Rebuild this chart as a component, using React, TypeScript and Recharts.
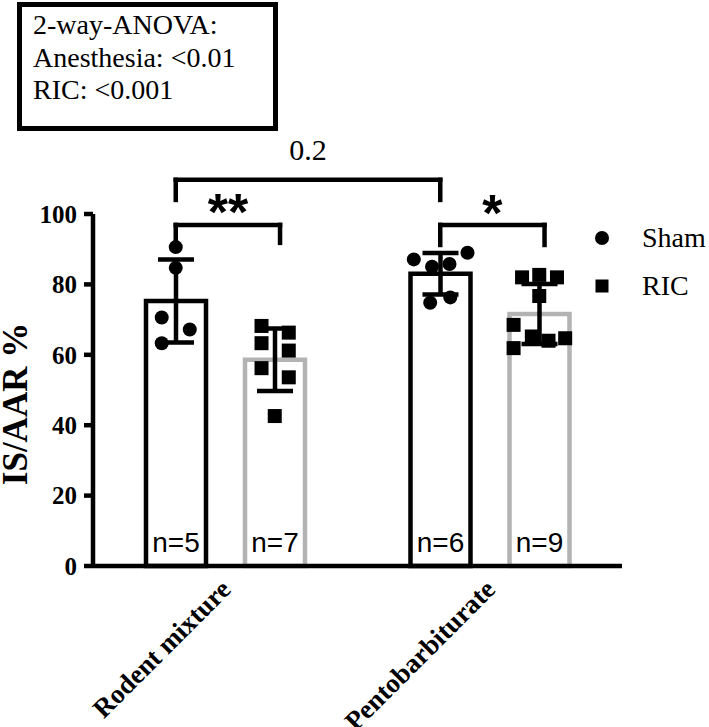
import React from "react";
import {
  ComposedChart,
  Bar,
  ErrorBar,
  LabelList,
  Scatter,
  XAxis,
  YAxis,
  ReferenceLine,
  ReferenceDot,
  Legend,
} from "recharts";

const SERIF = '"Liberation Serif", "Times New Roman", Times, serif';
const SANS = '"Liberation Sans", Arial, Helvetica, sans-serif';
const GREY = "#b3b3b3";

// categories on the x axis
const groups = ["Rodent mixture", "Pentobarbiturate"];

// group means (IS/AAR %), SD and n
const shamMean = [75.3, 83.0];
const shamSd = [11.8, 5.9];
const shamN = [5, 6];
const ricMean = [58.6, 71.6];
const ricSd = [8.9, 8.5];
const ricN = [7, 9];

// single animals: value + sideways jitter (fraction of one category band)
const shamRodentVals = [90.6, 84.7, 70.6, 67.2, 63.3];
const shamRodentJit = [0, 0, -0.053, 0.053, -0.053];
const ricRodentVals = [68.2, 66.3, 63.3, 61.2, 56.2, 53.6, 42.6];
const ricRodentJit = [-0.05, 0.053, -0.05, 0.053, -0.05, 0.053, 0];
const shamPentoVals = [87.1, 89.0, 85.0, 85.8, 74.8, 76.3];
const shamPentoJit = [-0.1, 0.103, -0.031, 0.035, -0.038, 0.038];
const ricPentoVals = [82.0, 82.7, 82.0, 76.7, 68.5, 65.2, 64.0, 64.7, 61.9];
const ricPentoJit = [-0.065, 0, 0.067, 0, -0.097, -0.028, 0.035, 0.098, -0.097];

const yTicks = [0, 20, 40, 60, 80, 100];
const legendItems = ["Sham", "RIC"];
const anovaLines = ["2-way-ANOVA:", "Anesthesia: <0.01", "RIC: <0.001"];

// comparisons, from/to = [group, series]; heights in IS/AAR %
const brackets = [
  { text: "0.2", from: [0, 0], to: [1, 0], top: 109.7, leftEnd: 104, rightEnd: 104, textAt: 115.3 },
  { text: "**", from: [0, 0], to: [0, 1], top: 96.9, leftEnd: 92.6, rightEnd: 91.8, textAt: 95.5 },
  { text: "*", from: [1, 0], to: [1, 1], top: 96.9, leftEnd: 91.2, rightEnd: 91.2, textAt: 95.3 },
];

// layout
const W = 709;
const H = 727;
const MARGIN = { top: 214, right: 87, bottom: 131, left: 0 };
const Y_AXIS_W = 93;
const X_AXIS_H = 30;
const BAR = 60;
const GAP = 39;
const PLOT_W = W - MARGIN.left - MARGIN.right - Y_AXIS_W;
const SERIES_OFFSET = (BAR + GAP) / 2 / (PLOT_W / groups.length);

// position on the hidden numeric axis (0..groups.length)
const pos = (g: number, s: number) => g + 0.5 + (s === 0 ? -1 : 1) * SERIES_OFFSET;

const rows = groups.map((g, i) => ({
  group: g,
  sham: shamMean[i],
  shamSd: shamSd[i],
  shamN: shamN[i],
  ric: ricMean[i],
  ricSd: ricSd[i],
  ricN: ricN[i],
}));

const makePoints = (vals: number[], jit: number[], g: number, s: number) =>
  vals.map((v, i) => ({ x: pos(g, s) + jit[i], y: v }));

const shamPoints = [
  ...makePoints(shamRodentVals, shamRodentJit, 0, 0),
  ...makePoints(shamPentoVals, shamPentoJit, 1, 0),
];
const ricPoints = [
  ...makePoints(ricRodentVals, ricRodentJit, 0, 1),
  ...makePoints(ricPentoVals, ricPentoJit, 1, 1),
];

const Circle = (p: any) => <circle cx={p.cx} cy={p.cy} r={7} fill="#000" />;
const Square = (p: any) => <rect x={p.cx - 7} y={p.cy - 7} width={14} height={14} fill="#000" />;

const CatTick = (p: any) => {
  const x = p.x + 7;
  const y = p.y + 25;
  return (
    <text
      x={x}
      y={y}
      transform={`rotate(-45 ${x} ${y})`}
      textAnchor="end"
      fontFamily={SERIF}
      fontWeight="bold"
      fontSize={27}
      fill="#000"
    >
      {p.payload.value}
    </text>
  );
};

const YLabel = (p: any) => {
  const vb = p.viewBox;
  const x = vb.x + 27;
  const y = vb.y + vb.height / 2 + 14;
  return (
    <text
      x={x}
      y={y}
      transform={`rotate(-90 ${x} ${y})`}
      textAnchor="middle"
      fontFamily={SERIF}
      fontWeight="bold"
      fontSize={35}
      fill="#000"
    >
      IS/AAR %
    </text>
  );
};

const LegendBox = () => (
  <div style={{ fontFamily: SERIF, fontSize: 28, color: "#000" }}>
    {legendItems.map((name, i) => (
      <div key={name} style={{ display: "flex", alignItems: "center", height: 48 }}>
        <svg width={20} height={20}>
          {i === 0 ? <circle cx={10} cy={10} r={7} fill="#000" /> : <rect x={3.5} y={3.5} width={13} height={13} fill="#000" />}
        </svg>
        <span style={{ marginLeft: 30, whiteSpace: "nowrap" }}>{name}</span>
      </div>
    ))}
  </div>
);

export default function App() {
  const line = { xAxisId: "num", stroke: "#000", strokeWidth: 4.5, strokeLinecap: "square", ifOverflow: "visible" } as any;
  return (
    <div style={{ position: "absolute", left: 0, top: 0, width: W, height: H, background: "#fff" }}>
      <div
        style={{
          position: "absolute",
          left: 17,
          top: 2,
          width: 261,
          height: 129,
          border: "5px solid #000",
          boxSizing: "border-box",
          padding: "2px 0 0 11px",
          fontFamily: SERIF,
          fontSize: 28,
          lineHeight: "32.5px",
          color: "#000",
          whiteSpace: "nowrap",
        }}
      >
        {anovaLines.map((l) => (
          <div key={l}>{l}</div>
        ))}
      </div>
      <ComposedChart width={W} height={H} data={rows} margin={MARGIN} barGap={GAP}>
        <XAxis
          xAxisId="cat"
          dataKey="group"
          height={X_AXIS_H}
          tickLine={false}
          tickSize={0}
          tickMargin={0}
          axisLine={{ stroke: "#000", strokeWidth: 4.5 }}
          tick={<CatTick />}
          interval={0}
        />
        <XAxis xAxisId="num" type="number" dataKey="x" domain={[0, groups.length]} allowDataOverflow hide />
        <YAxis
          width={Y_AXIS_W}
          domain={[0, 100]}
          ticks={yTicks}
          interval={0}
          tickSize={9}
          tickMargin={7}
          axisLine={{ stroke: "#000", strokeWidth: 4.5 }}
          tickLine={{ stroke: "#000", strokeWidth: 4.5 }}
          tick={{ fill: "#000", fontFamily: SERIF, fontWeight: "bold", fontSize: 25 }}
          label={{ content: <YLabel /> }}
        />
        <Bar xAxisId="cat" dataKey="sham" barSize={BAR} fill="#fff" stroke="#000" strokeWidth={4.5} isAnimationActive={false}>
          <ErrorBar dataKey="shamSd" width={18} stroke="#000" strokeWidth={4.5} direction="y" />
          <LabelList dataKey="shamN" position="insideBottom" offset={14} formatter={(v: any) => `n=${v}`} fill="#000" fontSize={28} fontFamily={SANS} />
        </Bar>
        <Bar xAxisId="cat" dataKey="ric" barSize={BAR} fill="#fff" stroke={GREY} strokeWidth={4.5} isAnimationActive={false}>
          <ErrorBar dataKey="ricSd" width={18} stroke="#000" strokeWidth={4.5} direction="y" />
          <LabelList dataKey="ricN" position="insideBottom" offset={14} formatter={(v: any) => `n=${v}`} fill="#000" fontSize={28} fontFamily={SANS} />
        </Bar>
        <Scatter xAxisId="num" data={shamPoints} dataKey="y" shape={Circle} isAnimationActive={false} />
        <Scatter xAxisId="num" data={ricPoints} dataKey="y" shape={Square} isAnimationActive={false} />
        {brackets.flatMap((b, i) => {
          const x1 = pos(b.from[0], b.from[1]);
          const x2 = pos(b.to[0], b.to[1]) + (b.to[1] === 1 ? 0.02 : 0);
          return [
            <ReferenceLine key={`h${i}`} {...line} segment={[{ x: x1, y: b.top }, { x: x2, y: b.top }]} />,
            <ReferenceLine key={`l${i}`} {...line} segment={[{ x: x1, y: b.top }, { x: x1, y: b.leftEnd }]} />,
            <ReferenceLine key={`r${i}`} {...line} segment={[{ x: x2, y: b.top }, { x: x2, y: b.rightEnd }]} />,
            <ReferenceDot
              key={`t${i}`}
              xAxisId="num"
              x={(x1 + x2) / 2}
              y={b.textAt}
              r={0}
              fill="none"
              stroke="none"
              ifOverflow="visible"
              label={{
                content: (p: any) => (
                  <text
                    x={p.viewBox.x + (p.viewBox.width || 0) / 2}
                    y={p.viewBox.y + (p.viewBox.height || 0) / 2}
                    textAnchor="middle"
                    fontFamily={b.text === "0.2" ? SERIF : SANS}
                    fontWeight={b.text === "0.2" ? "normal" : "bold"}
                    fontSize={b.text === "0.2" ? 30 : 52}
                    fill="#000"
                  >
                    {b.text}
                  </text>
                ),
              }}
            />,
          ];
        })}
        <Legend
          layout="vertical"
          align="center"
          verticalAlign="middle"
          wrapperStyle={{ left: 592, top: 214, width: 117 }}
          content={() => <LegendBox />}
        />
      </ComposedChart>
    </div>
  );
}
